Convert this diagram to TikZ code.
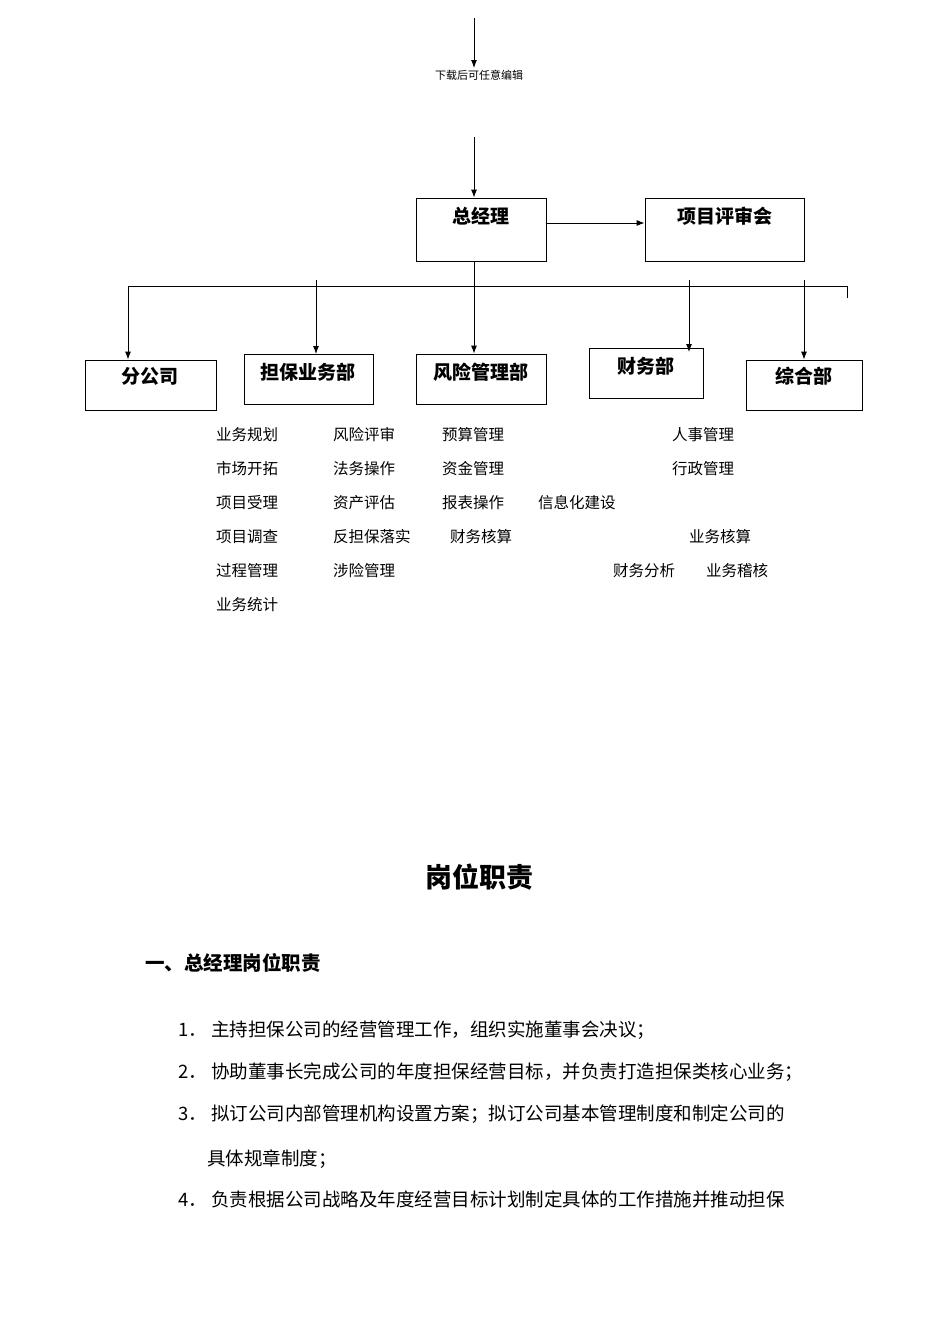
\documentclass[tikz,border=0pt]{standalone}
\usepackage{fontspec}
\setmainfont{Liberation Serif}
\newfontfamily\cjk{Noto Sans CJK SC}
\usetikzlibrary{arrows.meta}
\begin{document}
\begin{tikzpicture}[x=1pt,y=-1pt,
  box/.style={draw,line width=0.8pt,inner sep=0pt},
  arr/.style={-{Latex[length=8pt,width=6pt]},line width=0.9pt},
  lab/.style={font=\cjk\bfseries\fontsize{19}{19}\selectfont,inner sep=0pt},
  item/.style={font=\cjk\fontsize{15.5}{15.5}\selectfont,anchor=west,inner sep=0pt},
  body/.style={font=\cjk\fontsize{18.5}{18.5}\selectfont,anchor=west,inner sep=0pt}]
\useasboundingbox (0,0) rectangle (950,1344);
\coordinate (t0) at (474,18);
\node[font=\cjk\fontsize{11}{11}\selectfont,inner sep=0pt] (dl) at (479,75) {下载后可任意编辑};
\draw[arr] (t0) -- (474,68);
\coordinate (t1) at (474,137);
\node[box,minimum width=130pt,minimum height=63pt] (gm) at (481,229.5) {};
\node[lab] (gmt) at (481,216) {总经理};
\node[box,minimum width=159pt,minimum height=63pt] (pr) at (724.5,229.5) {};
\node[lab] (prt) at (725,216) {项目评审会};
\draw[arr] (t1) -- (t1 |- gm.north);
\draw[arr] (gm.east |- 0,223) -- (pr.west |- 0,223);
\node[box,minimum width=131pt,minimum height=50pt] (b1) at (150.5,385) {};
\node[lab] (b1t) at (150,376) {分公司};
\node[box,minimum width=129pt,minimum height=50pt] (b2) at (308.5,379) {};
\node[lab] (b2t) at (308,372) {担保业务部};
\node[box,minimum width=130pt,minimum height=50pt] (b3) at (481,379) {};
\node[lab] (b3t) at (481,372) {风险管理部};
\node[box,minimum width=114pt,minimum height=50pt] (b4) at (646,373) {};
\node[lab] (b4t) at (646,366) {财务部};
\node[box,minimum width=116pt,minimum height=50pt] (b5) at (804,385) {};
\node[lab] (b5t) at (804,376) {综合部};
\coordinate (hl) at (128,286);
\coordinate (hr) at (847,286);
\coordinate (he) at (847,298);
\draw[line width=0.8pt] (hl) -- (hr) -- (he);
\draw[arr] (hl) -- (b1.north -| hl);
\draw[arr] (t1 |- gm.south) -- (t1 |- b3.north);
\draw[arr] (316,280) -- (316,354);
\draw[arr] (689,280) -- (689,352);
\draw[arr] (804,280) -- (b5.north);
\foreach \t [count=\i] in {业务规划,市场开拓,项目受理,项目调查,过程管理,业务统计}
  \node[item] (c1\i) at (216,401+34*\i) {\t};
\foreach \t [count=\i] in {风险评审,法务操作,资产评估,反担保落实,涉险管理}
  \node[item] (c2\i) at (333,401+34*\i) {\t};
\foreach \t [count=\i] in {预算管理,资金管理,报表操作}
  \node[item] (c3\i) at (442,401+34*\i) {\t};
\node[item] (c34) at (450,537) {财务核算};
\node[item] (x1) at (538,503) {信息化建设};
\node[item] (x2) at (672,435) {人事管理};
\node[item] (x3) at (672,469) {行政管理};
\node[item] (x4) at (689,537) {业务核算};
\node[item] (x5) at (613,571) {财务分析};
\node[item] (x6) at (706,571) {业务稽核};
\node[font=\cjk\bfseries\fontsize{27}{27}\selectfont,inner sep=0pt] (title) at (479,877) {岗位职责};
\node[font=\cjk\bfseries\fontsize{19.5}{19.5}\selectfont,anchor=west,inner sep=0pt] (sec) at (145,963) {一、总经理岗位职责};
\node[body] (p1) at (178,1030) {1．\ 主持担保公司的经营管理工作，组织实施董事会决议；};
\node[body] (p2) at (178,1072) {2．\ 协助董事长完成公司的年度担保经营目标，并负责打造担保类核心业务；};
\node[body] (p3) at (178,1114) {3．\ 拟订公司内部管理机构设置方案；拟订公司基本管理制度和制定公司的};
\node[body] (p3b) at (207,1159) {具体规章制度；};
\node[body] (p4) at (178,1199) {4．\ 负责根据公司战略及年度经营目标计划制定具体的工作措施并推动担保};
\end{tikzpicture}
\end{document}
